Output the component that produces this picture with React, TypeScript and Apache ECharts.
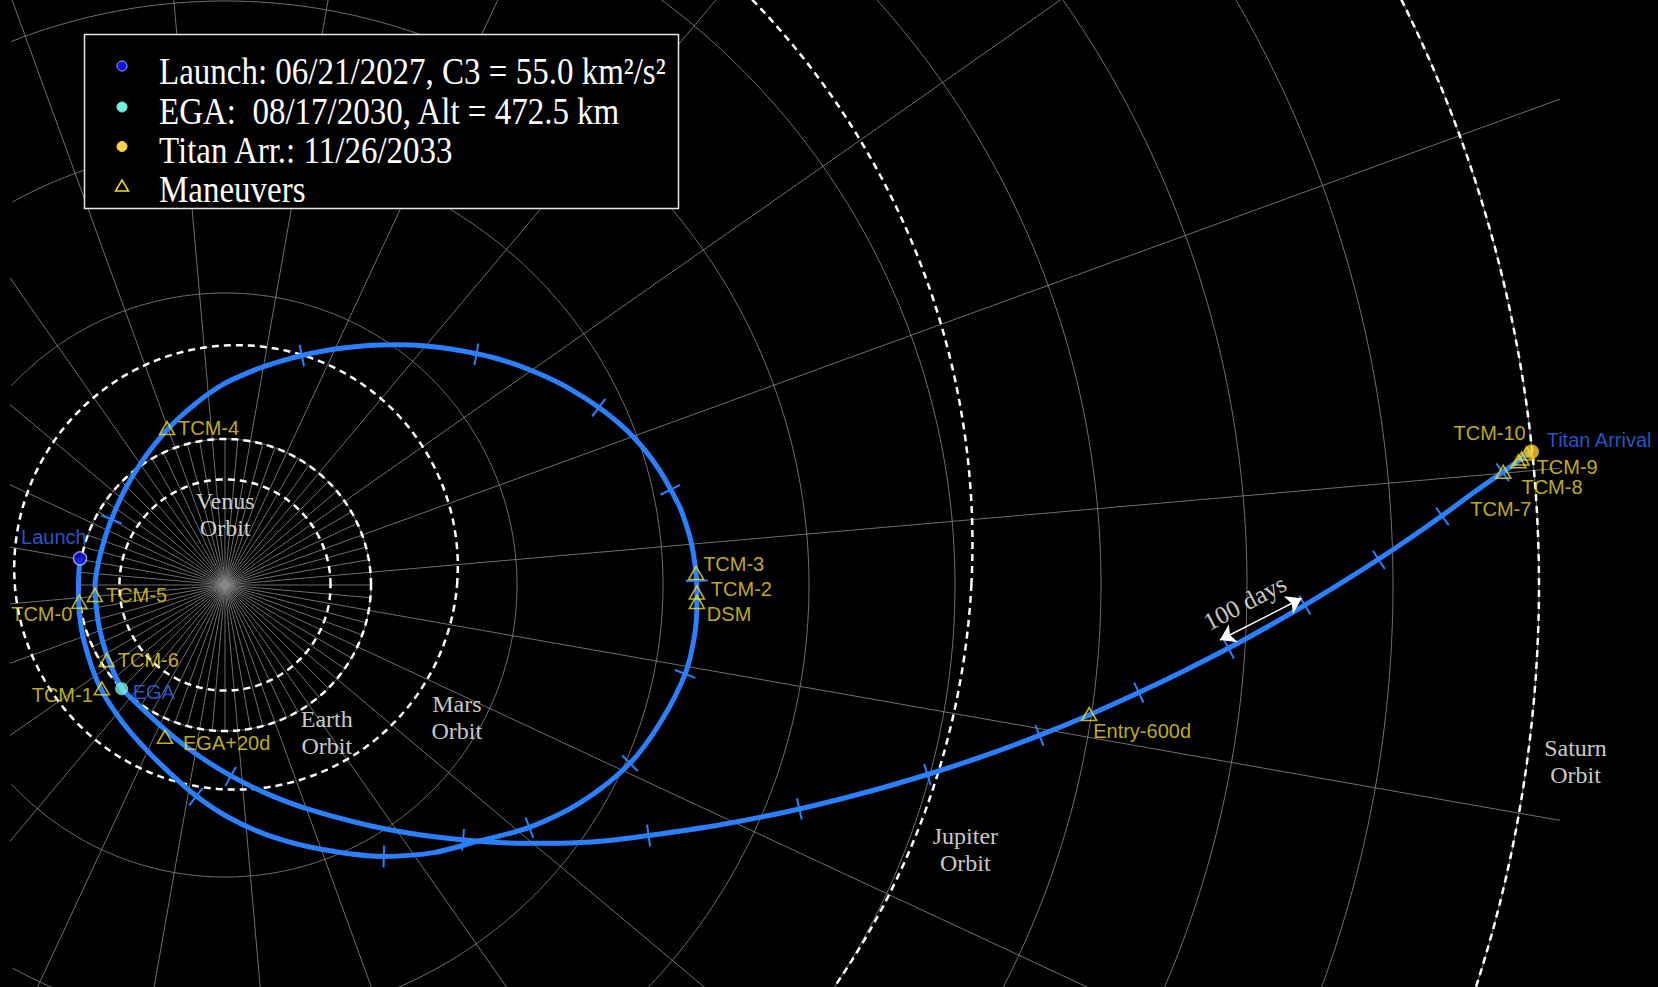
import React, { useEffect, useRef } from 'react';
import * as echarts from 'echarts';

type Pt = [number, number];

// ---------------- DATA (heliocentric, ecliptic plane, AU; Sun at 0,0) ----------------

// Launch -> DSM -> Earth gravity assist loop
const launchLoop: Pt[] = [
  [-0.993, 0.182], [-1.002, 0.058], [-1.004, -0.080], [-0.982, -0.308], [-0.913, -0.560],
  [-0.834, -0.742], [-0.697, -0.947], [-0.537, -1.131], [-0.382, -1.283], [-0.201, -1.442],
  [0.016, -1.587], [0.306, -1.718], [0.668, -1.812], [1.088, -1.859], [1.428, -1.833],
  [1.722, -1.758], [2.085, -1.660], [2.442, -1.486], [2.774, -1.221], [2.986, -0.935],
  [3.152, -0.609], [3.217, -0.341], [3.232, -0.123], [3.232, -0.015], [3.225, 0.094],
  [3.196, 0.280], [3.149, 0.443], [3.108, 0.548], [2.970, 0.796], [2.794, 1.017], [2.585, 1.198],
  [2.356, 1.347], [2.116, 1.462], [1.872, 1.548], [1.630, 1.603], [1.396, 1.635], [1.173, 1.645],
  [0.963, 1.639], [0.767, 1.618], [0.586, 1.586], [0.419, 1.544], [0.266, 1.496], [0.127, 1.441],
  [0.000, 1.382], [-0.108, 1.313], [-0.204, 1.240], [-0.291, 1.166], [-0.370, 1.090],
  [-0.440, 1.013], [-0.504, 0.935], [-0.561, 0.857], [-0.612, 0.779], [-0.659, 0.701],
  [-0.701, 0.623], [-0.738, 0.544], [-0.771, 0.466], [-0.801, 0.388], [-0.826, 0.311],
  [-0.867, 0.155], [-0.890, 0.000], [-0.881, -0.155], [-0.857, -0.312], [-0.813, -0.469],
  [-0.763, -0.596], [-0.708, -0.708],
];

// EGA -> Saturn / Titan cruise
const cruiseToSaturn: Pt[] = [
  [-0.708, -0.710], [-0.582, -0.833], [-0.455, -0.951], [-0.332, -1.056], [-0.165, -1.180],
  [0.038, -1.306], [0.270, -1.422], [0.559, -1.532], [0.994, -1.649], [1.356, -1.714],
  [1.722, -1.754], [2.000, -1.768], [2.297, -1.768], [2.587, -1.754], [2.901, -1.716],
  [3.384, -1.644], [3.934, -1.534], [4.398, -1.418], [4.811, -1.298], [5.194, -1.172],
  [5.578, -1.030], [5.919, -0.890], [6.259, -0.737], [6.571, -0.587], [6.875, -0.432],
  [7.150, -0.281], [7.396, -0.138], [7.657, 0.021], [7.903, 0.178], [8.128, 0.329],
  [8.338, 0.476], [8.562, 0.640], [8.751, 0.772], [8.866, 0.855], [8.950, 0.913],
];

// 100-day tick marks
const loopTicks: Pt[] = [
  [-0.199, -1.450], [1.088, -1.859], [2.085, -1.662], [2.774, -1.221], [3.152, -0.609],
  [3.232, 0.029], [3.050, 0.652], [2.560, 1.215], [1.722, 1.580], [0.526, 1.572], [-0.778, 0.450],
];
const cruiseTicks: Pt[] = [
  [0.038, -1.312], [1.631, -1.745], [2.901, -1.716], [3.934, -1.534], [4.811, -1.298],
  [5.578, -1.030], [6.259, -0.737], [6.875, -0.437], [7.396, -0.138], [7.903, 0.172],
  [8.338, 0.470], [8.751, 0.772],
];

// Maneuvers
const maneuverNames = ['TCM-0', 'TCM-1', 'DSM', 'TCM-2', 'TCM-3', 'TCM-4', 'TCM-5', 'TCM-6',
  'EGA+20d', 'Entry-600d', 'TCM-7', 'TCM-8', 'TCM-9', 'TCM-10'];
const maneuverX = [-0.998, -0.844, 3.232, 3.232, 3.227, -0.397, -0.891, -0.810,
  -0.411, 5.919, 8.755, 8.859, 8.881, 8.916];
const maneuverY = [-0.115, -0.708, -0.116, -0.051, 0.082, 1.075, -0.068, -0.514,
  -1.039, -0.884, 0.775, 0.848, 0.866, 0.901];

// Key events
const eventNames = ['Launch', 'EGA', 'Titan Arrival'];
const eventX = [-0.993, -0.708, 8.950];
const eventY = [0.182, -0.710, 0.913];

// Planet orbits: semi-major axis (AU), eccentricity, longitude of perihelion (deg, plot frame)
const planetNames = ['Venus', 'Earth', 'Mars', 'Jupiter', 'Saturn'];
const planetA = [0.723, 1.0, 1.524, 5.35, 9.0];
const planetE = [0, 0, 0.0934, 0.069, 0];
const planetW = [0, 0, 238, -53, 0];

// Orbit name annotations
const orbitLabelNames = ['Venus\nOrbit', 'Earth\nOrbit', 'Mars\nOrbit', 'Jupiter\nOrbit', 'Saturn\nOrbit'];
const orbitLabelX = [0.001, 0.697, 1.588, 5.071, 9.250];
const orbitLabelY = [0.486, -1.007, -0.906, -1.812, -1.210];

// "100 days" annotation
const hundredDaysFrom: Pt = [6.815, -0.377];
const hundredDaysTo: Pt = [7.375, -0.091];
const hundredDaysText: Pt = [6.985, -0.121];

// Polar reference grid
const gridRadii = [1, 2, 3, 4, 5, 6, 7, 8, 9];
const majorSpokeStep = 15;
const majorSpokeOffset = 5;
const minorSpokeStep = 5;

// Legend texts
const legendTexts = [
  'Launch: 06/21/2027, C3 = 55.0 km\u00b2/s\u00b2',
  'EGA:\u00a0 08/17/2030, Alt = 472.5 km',
  'Titan Arr.: 11/26/2033',
  'Maneuvers',
];

// ---------------- STYLE ----------------
const X_MIN = -1.5411, X_MAX = 9.8151, Y_MIN = -2.7534, Y_MAX = 4.0068;
const GRID_XL = -1.4726, GRID_XR = 9.1438;
const BLUE = '#2a80ff';
const LABEL_BLUE = '#2f6ef5';
const YELLOW = '#f0da25';
const GRID_GRAY = '#8a8a8a';
const SANS = '"Liberation Sans", Arial, sans-serif';
const SERIF = '"Liberation Serif", "Times New Roman", serif';
const TICK_HALF = 0.075;

const maneuverLabel: Record<string, { align: string; dx: number; dy: number }> = {
  'TCM-0': { align: 'right', dx: -7, dy: 12 },
  'TCM-1': { align: 'right', dx: -9, dy: 7 },
  'DSM': { align: 'left', dx: 10, dy: 12 },
  'TCM-2': { align: 'left', dx: 14, dy: -3 },
  'TCM-3': { align: 'left', dx: 7, dy: -9 },
  'TCM-4': { align: 'left', dx: 11, dy: 0 },
  'TCM-5': { align: 'left', dx: 11, dy: 0 },
  'TCM-6': { align: 'left', dx: 11, dy: 0 },
  'EGA+20d': { align: 'left', dx: 18, dy: 6 },
  'Entry-600d': { align: 'left', dx: 4, dy: 17 },
  'TCM-7': { align: 'left', dx: -33, dy: 37 },
  'TCM-8': { align: 'left', dx: 3, dy: 26 },
  'TCM-9': { align: 'left', dx: 15, dy: 8 },
  'TCM-10': { align: 'right', dx: -1, dy: -20 },
};
const eventStyle = [
  { size: 13, color: '#1212dc', border: '#aab8ff', bw: 1.5, align: 'left', dx: -59, dy: -21 },
  { size: 13, color: '#78f2e2', border: '#78f2e2', bw: 0, align: 'left', dx: 11, dy: 3 },
  { size: 14, color: '#ffcf30', border: '#c9a000', bw: 1, align: 'left', dx: 15, dy: -12 },
];

// ---------------- GEOMETRY HELPERS ----------------
function circleArcs(r: number): Pt[][] {
  const segs: Pt[][] = [];
  let cur: Pt[] = [];
  for (let d = 180; d <= 540; d += 0.5) {
    const t = (d * Math.PI) / 180;
    const x = r * Math.cos(t), y = r * Math.sin(t);
    if (x >= GRID_XL && x <= GRID_XR) cur.push([x, y]);
    else { if (cur.length > 1) segs.push(cur); cur = []; }
  }
  if (cur.length > 1) segs.push(cur);
  return segs;
}
function spoke(deg: number, rmax: number): Pt[] {
  const t = (deg * Math.PI) / 180;
  const c = Math.cos(t), s = Math.sin(t);
  let r = rmax;
  if (c > 1e-6) r = Math.min(r, GRID_XR / c);
  if (c < -1e-6) r = Math.min(r, GRID_XL / c);
  return [[0, 0], [r * c, r * s]];
}
function orbitPoints(a: number, e: number, wDeg: number): Pt[] {
  const p = a * (1 - e * e);
  const w = (wDeg * Math.PI) / 180;
  const pts: Pt[] = [];
  for (let d = 0; d <= 360; d += 1) {
    const t = (d * Math.PI) / 180;
    const r = p / (1 + e * Math.cos(t - w));
    pts.push([r * Math.cos(t), r * Math.sin(t)]);
  }
  return pts;
}
function tangentAngle(path: Pt[], p: Pt): number {
  let best = 0, bd = Infinity;
  path.forEach((q, i) => {
    const d = (q[0] - p[0]) ** 2 + (q[1] - p[1]) ** 2;
    if (d < bd) { bd = d; best = i; }
  });
  const a = path[Math.max(0, best - 1)];
  const b = path[Math.min(path.length - 1, best + 1)];
  return Math.atan2(b[1] - a[1], b[0] - a[0]);
}

function buildOption() {
  const gridLines: Pt[][] = [];
  gridRadii.forEach((r) => circleArcs(r).forEach((s) => gridLines.push(s)));
  for (let a = 0; a < 360; a += minorSpokeStep) {
    const major = ((a - majorSpokeOffset) % majorSpokeStep + majorSpokeStep) % majorSpokeStep === 0;
    gridLines.push(spoke(a, major ? 14 : 1));
  }

  const tickData = [
    ...loopTicks.map((p) => [p[0], p[1], tangentAngle(launchLoop, p)]),
    ...cruiseTicks.map((p) => [p[0], p[1], tangentAngle(cruiseToSaturn, p)]),
  ];

  const orbitSeries = planetNames.map((n, i) => ({
    type: 'line',
    name: n + ' Orbit',
    data: orbitPoints(planetA[i], planetE[i], planetW[i]),
    symbol: 'none',
    showSymbol: false,
    silent: true,
    z: 2,
    lineStyle: { color: '#ffffff', width: 2.5, type: [7, 5] },
  }));

  const trajStyle = { color: BLUE, width: 5 };

  const legendY = [71, 111, 150, 189];
  const markerY = [66, 107, 146.5, 185.5];
  const legendColors = ['#0d14e8', '#74f0de', '#ffd04a'];

  const graphic: any[] = [
    {
      type: 'rect', z: 100, silent: true,
      shape: { x: 84.5, y: 34.5, width: 594, height: 174 },
      style: { fill: '#000', stroke: '#e6e6e6', lineWidth: 1.5 },
    },
  ];
  legendColors.forEach((c, i) => {
    graphic.push({
      type: 'circle', z: 101, silent: true,
      shape: { cx: 122, cy: markerY[i], r: 5 },
      style: { fill: c, stroke: i === 0 ? '#9fb0ff' : c, lineWidth: 1 },
    });
  });
  graphic.push({
    type: 'polygon', z: 101, silent: true,
    shape: { points: [[115.5, 191], [128.5, 191], [122, 180]] },
    style: { fill: 'none', stroke: YELLOW, lineWidth: 1.5 },
  });
  legendTexts.forEach((t, i) => {
    graphic.push({
      type: 'text', z: 101, silent: true,
      x: 159, y: legendY[i], scaleY: 1.15,
      style: { text: t, fill: '#ffffff', fontSize: 33, fontFamily: SERIF, verticalAlign: 'middle', align: 'left' },
    });
  });

  return {
    backgroundColor: '#000000',
    animation: false,
    grid: { left: 0, right: 0, top: 0, bottom: 0, containLabel: false },
    xAxis: { type: 'value', min: X_MIN, max: X_MAX, show: false },
    yAxis: { type: 'value', min: Y_MIN, max: Y_MAX, show: false },
    series: [
      {
        type: 'lines', name: 'Polar grid', coordinateSystem: 'cartesian2d', polyline: true,
        silent: true, z: 1,
        lineStyle: { color: GRID_GRAY, width: 0.8, opacity: 1 },
        data: gridLines.map((c) => ({ coords: c })),
      },
      ...orbitSeries,
      {
        type: 'line', name: 'Launch loop', data: launchLoop, smooth: 0.3,
        symbol: 'none', showSymbol: false, silent: true, z: 3, lineStyle: trajStyle,
      },
      {
        type: 'line', name: 'Cruise', data: cruiseToSaturn, smooth: 0.3,
        symbol: 'none', showSymbol: false, silent: true, z: 3, lineStyle: trajStyle,
      },
      {
        type: 'custom', name: '100-day ticks', coordinateSystem: 'cartesian2d', silent: true, z: 4,
        data: tickData,
        renderItem: (_params: any, api: any) => {
          const x = api.value(0), y = api.value(1), a = api.value(2);
          const nx = -Math.sin(a) * TICK_HALF, ny = Math.cos(a) * TICK_HALF;
          const p1 = api.coord([x + nx, y + ny]);
          const p2 = api.coord([x - nx, y - ny]);
          return {
            type: 'line',
            shape: { x1: p1[0], y1: p1[1], x2: p2[0], y2: p2[1] },
            style: { stroke: BLUE, lineWidth: 2 },
          };
        },
      },
      {
        type: 'lines', name: '100 days arrow', coordinateSystem: 'cartesian2d', silent: true, z: 7,
        symbol: ['arrow', 'arrow'], symbolSize: 15,
        lineStyle: { color: '#ffffff', width: 1.5, opacity: 1 },
        data: [{ coords: [hundredDaysFrom, hundredDaysTo] }],
      },
      ...eventNames.map((n, i) => ({
        type: 'scatter', name: n, z: 5, silent: true,
        symbol: 'circle', symbolSize: eventStyle[i].size,
        itemStyle: { color: eventStyle[i].color, borderColor: eventStyle[i].border, borderWidth: eventStyle[i].bw },
        label: {
          show: true, formatter: '{b}', position: 'inside', color: LABEL_BLUE,
          fontFamily: SANS, fontSize: 20, verticalAlign: 'middle',
          align: eventStyle[i].align, offset: [eventStyle[i].dx, eventStyle[i].dy],
        },
        data: [{ name: n, value: [eventX[i], eventY[i]] }],
      })),
      {
        type: 'scatter', name: 'Maneuvers', z: 6, silent: true,
        symbol: 'triangle', symbolSize: [15, 13],
        itemStyle: { color: 'rgba(0,0,0,0)', borderColor: YELLOW, borderWidth: 1.6 },
        label: {
          show: true, formatter: '{b}', position: 'inside', color: YELLOW,
          fontFamily: SANS, fontSize: 20, verticalAlign: 'middle',
        },
        data: maneuverNames.map((n, i) => ({
          name: n,
          value: [maneuverX[i], maneuverY[i]],
          label: { align: maneuverLabel[n].align, offset: [maneuverLabel[n].dx, maneuverLabel[n].dy] },
        })),
      },
      {
        type: 'scatter', name: 'Orbit names', z: 7, silent: true,
        symbol: 'circle', symbolSize: 1, itemStyle: { color: 'rgba(0,0,0,0)' },
        label: {
          show: true, formatter: '{b}', position: 'inside', color: '#ffffff',
          fontFamily: SERIF, fontSize: 24, lineHeight: 27, align: 'center', verticalAlign: 'middle',
        },
        data: orbitLabelNames.map((n, i) => ({ name: n, value: [orbitLabelX[i], orbitLabelY[i]] })),
      },
      {
        type: 'scatter', name: '100 days', z: 7, silent: true,
        symbol: 'circle', symbolSize: 1, itemStyle: { color: 'rgba(0,0,0,0)' },
        label: {
          show: true, formatter: '{b}', position: 'inside', color: '#ffffff', rotate: 28,
          fontFamily: SERIF, fontSize: 25, align: 'center', verticalAlign: 'middle',
        },
        data: [{ name: '100 days', value: hundredDaysText }],
      },
    ],
    graphic,
  };
}

export default function App() {
  const ref = useRef<HTMLDivElement>(null);
  useEffect(() => {
    if (!ref.current) return;
    const chart = echarts.init(ref.current, null, { renderer: 'svg' });
    chart.setOption(buildOption() as any);
    return () => chart.dispose();
  }, []);
  return (
    <div
      ref={ref}
      style={{ position: 'absolute', left: 0, top: 0, width: 1658, height: 987, background: '#000' }}
    />
  );
}
